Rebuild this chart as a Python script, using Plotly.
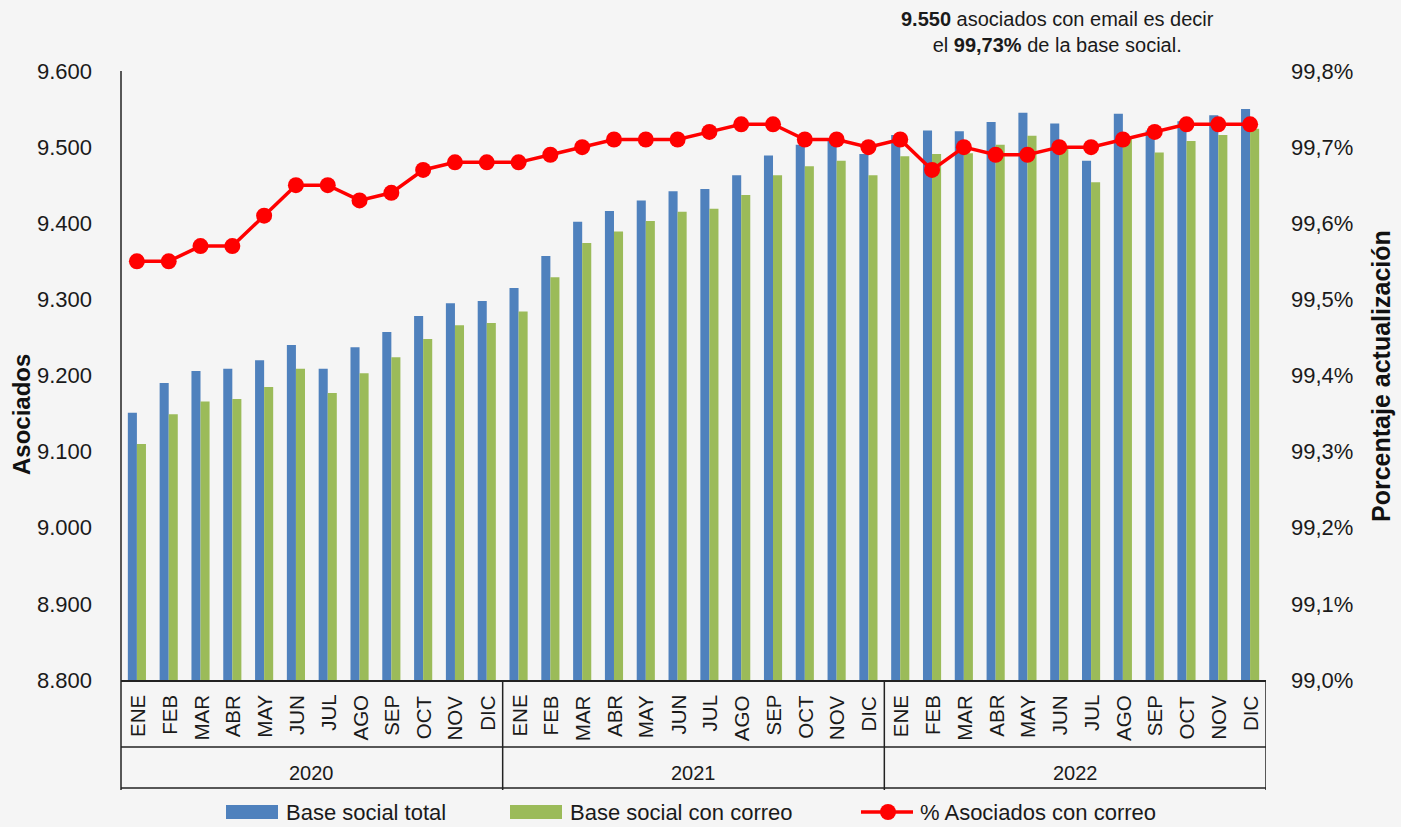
import plotly.graph_objects as go

year_labels = ["2020", "2021", "2022"]
month_labels = ["ENE", "FEB", "MAR", "ABR", "MAY", "JUN", "JUL", "AGO", "SEP", "OCT", "NOV", "DIC"]
months = month_labels * len(year_labels)

base_total = [9151, 9190, 9206, 9209, 9220, 9240, 9209, 9237, 9257, 9278, 9295, 9298,
              9315, 9357, 9402, 9416, 9430, 9442, 9445, 9463, 9489, 9503, 9512, 9491,
              9516, 9522, 9521, 9533, 9545, 9531, 9482, 9544, 9522, 9534, 9542, 9550]
base_correo = [9110, 9149, 9166, 9169, 9185, 9209, 9177, 9203, 9224, 9248, 9266, 9269,
               9284, 9329, 9374, 9389, 9403, 9415, 9419, 9437, 9463, 9475, 9482, 9463,
               9488, 9491, 9492, 9503, 9515, 9501, 9454, 9512, 9493, 9508, 9516, 9524]
pct = [99.55, 99.55, 99.57, 99.57, 99.61, 99.65, 99.65, 99.63, 99.64, 99.67, 99.68, 99.68,
       99.68, 99.69, 99.70, 99.71, 99.71, 99.71, 99.72, 99.73, 99.73, 99.71, 99.71, 99.70,
       99.71, 99.67, 99.70, 99.69, 99.69, 99.70, 99.70, 99.71, 99.72, 99.73, 99.73, 99.73]

left_ticks = [8800, 8900, 9000, 9100, 9200, 9300, 9400, 9500, 9600]
right_ticks = [99.0, 99.1, 99.2, 99.3, 99.4, 99.5, 99.6, 99.7, 99.8]
right_ticktext = [f"{v:.1f}%".replace(".", ",") for v in right_ticks]

n = len(months)
x = list(range(n))
per_year = len(month_labels)

FONT = "Liberation Sans"
TXT = "#1a1a1a"
LINE = "#222222"

W, H = 1401, 827
ML, MR, MT, MB = 121, 135, 71, 147
PW, PH = W - ML - MR, H - MT - MB


def px_x(px):
    return (px - ML) / PW


def px_y(py):
    return (H - MB - py) / PH


fig = go.Figure()
fig.add_trace(go.Bar(x=x, y=base_total, name="Base social total", marker_color="#4F81BD",
                     marker_line_width=0, showlegend=False))
fig.add_trace(go.Bar(x=x, y=base_correo, name="Base social con correo", marker_color="#9BBB59",
                     marker_line_width=0, showlegend=False))
fig.add_trace(go.Scatter(x=x, y=pct, name="% Asociados con correo", yaxis="y2",
                         mode="lines+markers", line=dict(color="#FF0000", width=3.5),
                         marker=dict(color="#FF0000", size=16), showlegend=False))

shapes = []
annotations = []

# month labels (top aligned under the axis, like the original)
for i, m in zip(x, months):
    annotations.append(dict(xref="x", yref="paper", x=i, y=px_y(693), text=m,
                            textangle=-90, showarrow=False, xanchor="center", yanchor="top",
                            font=dict(size=20.5, family=FONT, color=TXT)))

# category box lines below the plot
for py in (747, 788):
    shapes.append(dict(type="line", xref="paper", yref="paper", x0=0, x1=1,
                       y0=px_y(py), y1=px_y(py), line=dict(color=LINE, width=1.5)))
# left axis line extended through the category box
shapes.append(dict(type="line", xref="paper", yref="paper", x0=0, x1=0,
                   y0=px_y(790), y1=1, line=dict(color=LINE, width=1.5)))
# group dividers
for g in range(1, len(year_labels) + 1):
    xb = g * per_year - 0.5
    shapes.append(dict(type="line", xref="x", yref="paper", x0=xb, x1=xb,
                       y0=px_y(790), y1=0, line=dict(color=LINE, width=1.5)))
# year labels
for g, yl in enumerate(year_labels):
    xc = g * per_year + (per_year - 1) / 2
    annotations.append(dict(xref="x", yref="paper", x=xc, y=px_y(773), text=yl,
                            showarrow=False, yanchor="middle", xanchor="center",
                            font=dict(size=20, family=FONT, color=TXT)))

# axis titles
annotations.append(dict(xref="paper", yref="paper", x=px_x(21), y=px_y(415),
                        text="<b>Asociados</b>", textangle=-90, showarrow=False,
                        xanchor="center", yanchor="middle",
                        font=dict(size=24, family=FONT, color="#111")))
annotations.append(dict(xref="paper", yref="paper", x=px_x(1381), y=px_y(376),
                        text="<b>Porcentaje actualización</b>", textangle=-90, showarrow=False,
                        xanchor="center", yanchor="middle",
                        font=dict(size=25, family=FONT, color="#111")))

# top note
annotations.append(dict(xref="paper", yref="paper", x=px_x(1057), y=px_y(32),
                        xanchor="center", yanchor="middle", showarrow=False, align="center",
                        text="<b>9.550</b> asociados con email es decir<br>el <b>99,73%</b> de la base social.",
                        font=dict(size=20, family=FONT, color=TXT)))

# custom legend
ly = 812
shapes.append(dict(type="rect", xref="paper", yref="paper", x0=px_x(226), x1=px_x(278),
                   y0=px_y(819), y1=px_y(805), fillcolor="#4F81BD", line=dict(width=0)))
shapes.append(dict(type="rect", xref="paper", yref="paper", x0=px_x(510), x1=px_x(562),
                   y0=px_y(819), y1=px_y(805), fillcolor="#9BBB59", line=dict(width=0)))
shapes.append(dict(type="line", xref="paper", yref="paper", x0=px_x(861), x1=px_x(913),
                   y0=px_y(ly), y1=px_y(ly), line=dict(color="#FF0000", width=3.5)))
shapes.append(dict(type="circle", xref="paper", yref="paper", x0=px_x(880), x1=px_x(896),
                   y0=px_y(ly + 8), y1=px_y(ly - 8), fillcolor="#FF0000", line=dict(width=0)))
for lx, txt in ((284, "Base social total"), (568, "Base social con correo"),
                (918, "% Asociados con correo")):
    annotations.append(dict(xref="paper", yref="paper", x=px_x(lx), y=px_y(ly),
                            xanchor="left", yanchor="middle", showarrow=False, text=txt,
                            font=dict(size=22, family=FONT, color=TXT)))

fig.update_layout(
    width=W, height=H,
    paper_bgcolor="#f5f5f5",
    plot_bgcolor="rgba(0,0,0,0)",
    font=dict(family=FONT, color=TXT, size=18),
    margin=dict(l=ML, r=MR, t=MT, b=MB, autoexpand=False),
    barmode="group", bargap=0.43, bargroupgap=0,
    showlegend=False,
    xaxis=dict(range=[-0.5, n - 0.5], tickmode="array", tickvals=x, showticklabels=False,
               showline=True, linecolor=LINE, linewidth=1.5, ticks="", showgrid=False,
               zeroline=False, automargin=False),
    yaxis=dict(range=[8800, 9600], tickmode="array", tickvals=left_ticks,
               ticktext=[f"{v:,}".replace(",", ".") for v in left_ticks],
               showgrid=False, zeroline=False, showline=False, ticks="",
               ticklabelstandoff=28, tickfont=dict(size=22, family=FONT, color=TXT),
               automargin=False),
    yaxis2=dict(range=[99.0, 99.8], overlaying="y", side="right", tickmode="array",
                tickvals=right_ticks, ticktext=right_ticktext,
                showgrid=False, zeroline=False, showline=False, ticks="",
                ticklabelstandoff=24, tickfont=dict(size=22, family=FONT, color=TXT),
                automargin=False),
    shapes=shapes,
    annotations=annotations,
)

fig.write_html("out.html", config={"displayModeBar": False},
               post_script="document.body.style.margin='0';")
